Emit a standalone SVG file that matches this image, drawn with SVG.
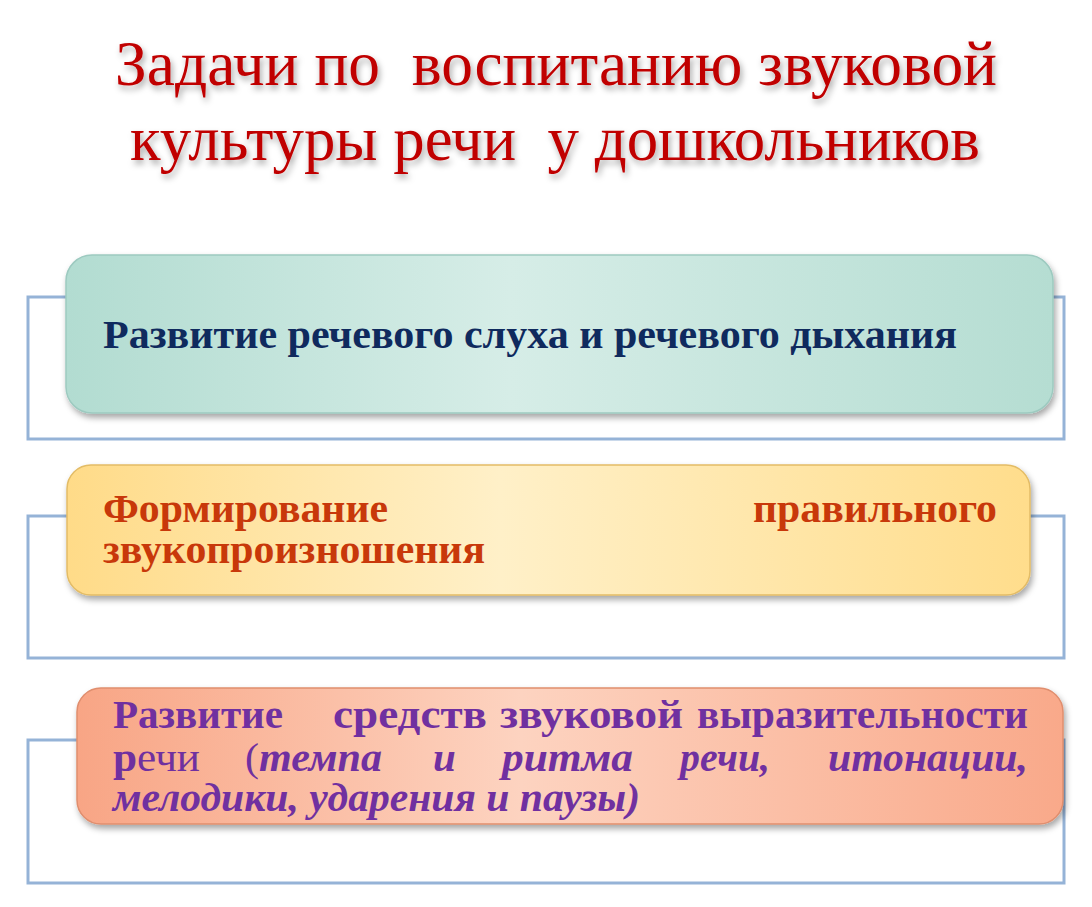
<svg xmlns="http://www.w3.org/2000/svg" width="1092" height="907" viewBox="0 0 1092 907">
<style>
.title{font-family:"Liberation Serif","Times New Roman",serif;font-size:64px;fill:#C00000;}
.frame{fill:none;stroke:#95B3D7;stroke-width:3;}
.t{font-family:"Liberation Serif","Times New Roman",serif;font-size:41px;font-weight:bold;}
.it{font-style:italic;}
.reg{font-weight:normal;}
</style>
<defs>
<filter id="tsh" x="-5%" y="-20%" width="110%" height="150%">
<feDropShadow dx="2" dy="4" stdDeviation="3" flood-color="#000" flood-opacity="0.35"/>
</filter>
<filter id="bsh" x="-5%" y="-10%" width="110%" height="130%">
<feDropShadow dx="2" dy="4" stdDeviation="3" flood-color="#000" flood-opacity="0.35"/>
</filter>
<linearGradient id="g1" x1="0" y1="0" x2="1" y2="0">
<stop offset="0" stop-color="#B2DCD1"/>
<stop offset="0.45" stop-color="#D6EDE7"/>
<stop offset="1" stop-color="#B5DDD2"/>
</linearGradient>
<linearGradient id="g2" x1="0" y1="0" x2="1" y2="0">
<stop offset="0" stop-color="#FFDB88"/>
<stop offset="0.45" stop-color="#FFF0C8"/>
<stop offset="1" stop-color="#FFDD8C"/>
</linearGradient>
<linearGradient id="g3" x1="0" y1="0" x2="1" y2="0">
<stop offset="0" stop-color="#F8A585"/>
<stop offset="0.45" stop-color="#FDD3C0"/>
<stop offset="1" stop-color="#F9A98A"/>
</linearGradient>
</defs>
<rect width="1092" height="907" fill="#FFFFFF"/>

<g id="title" filter="url(#tsh)">
<text class="title" x="115" y="85" textLength="882" lengthAdjust="spacingAndGlyphs" xml:space="preserve">Задачи по  воспитанию звуковой</text>
<text class="title" x="130" y="160" textLength="850" lengthAdjust="spacingAndGlyphs" xml:space="preserve">культуры речи  у дошкольников</text>
</g>

<g id="connectors">
<rect class="frame" x="28" y="297" width="1036" height="142"/>
<rect class="frame" x="28" y="516" width="1036" height="142"/>
<rect class="frame" x="28" y="740" width="1036" height="143"/>
</g>

<g id="node1">
<rect x="66" y="255" width="987" height="158" rx="26" fill="url(#g1)" stroke="#9DCAC0" stroke-width="1.5" filter="url(#bsh)"/>
<text class="t" x="103" y="348" fill="#0F2A5E" textLength="854" lengthAdjust="spacingAndGlyphs">Развитие речевого слуха и речевого дыхания</text>
</g>

<g id="node2">
<rect x="67" y="465" width="963" height="130" rx="24" fill="url(#g2)" stroke="#E3BC66" stroke-width="1.5" filter="url(#bsh)"/>
<g class="t" fill="#C8380A">
<text x="103" y="522" textLength="285" lengthAdjust="spacingAndGlyphs">Формирование</text>
<text x="753" y="522" textLength="244" lengthAdjust="spacingAndGlyphs">правильного</text>
<text x="103" y="563" textLength="382" lengthAdjust="spacingAndGlyphs">звукопроизношения</text>
</g>
</g>

<g id="node3">
<rect x="77" y="688" width="986" height="136" rx="24" fill="url(#g3)" stroke="#E08E6E" stroke-width="1.5" filter="url(#bsh)"/>
<g class="t" fill="#7030A0">
<text x="113" y="728" textLength="170" lengthAdjust="spacingAndGlyphs">Развитие</text>
<text x="333" y="728" textLength="154" lengthAdjust="spacingAndGlyphs">средств</text>
<text x="500" y="728" textLength="183" lengthAdjust="spacingAndGlyphs">звуковой</text>
<text x="697" y="728" textLength="331" lengthAdjust="spacingAndGlyphs">выразительности</text>
<text x="113" y="771" textLength="87" lengthAdjust="spacingAndGlyphs">р<tspan class="reg">ечи</tspan></text>
<text class="it" x="245" y="771" textLength="137" lengthAdjust="spacingAndGlyphs"><tspan class="reg" style="font-style:normal">(</tspan>темпа</text>
<text class="it" x="433" y="771">и</text>
<text class="it" x="502" y="771" textLength="131" lengthAdjust="spacingAndGlyphs">ритма</text>
<text class="it" x="680" y="771" textLength="90" lengthAdjust="spacingAndGlyphs">речи,</text>
<text class="it" x="828" y="771" textLength="200" lengthAdjust="spacingAndGlyphs">итонации,</text>
<text class="it" x="113" y="811" textLength="527" lengthAdjust="spacingAndGlyphs">мелодики, ударения и паузы)</text>
</g>
</g>
</svg>
